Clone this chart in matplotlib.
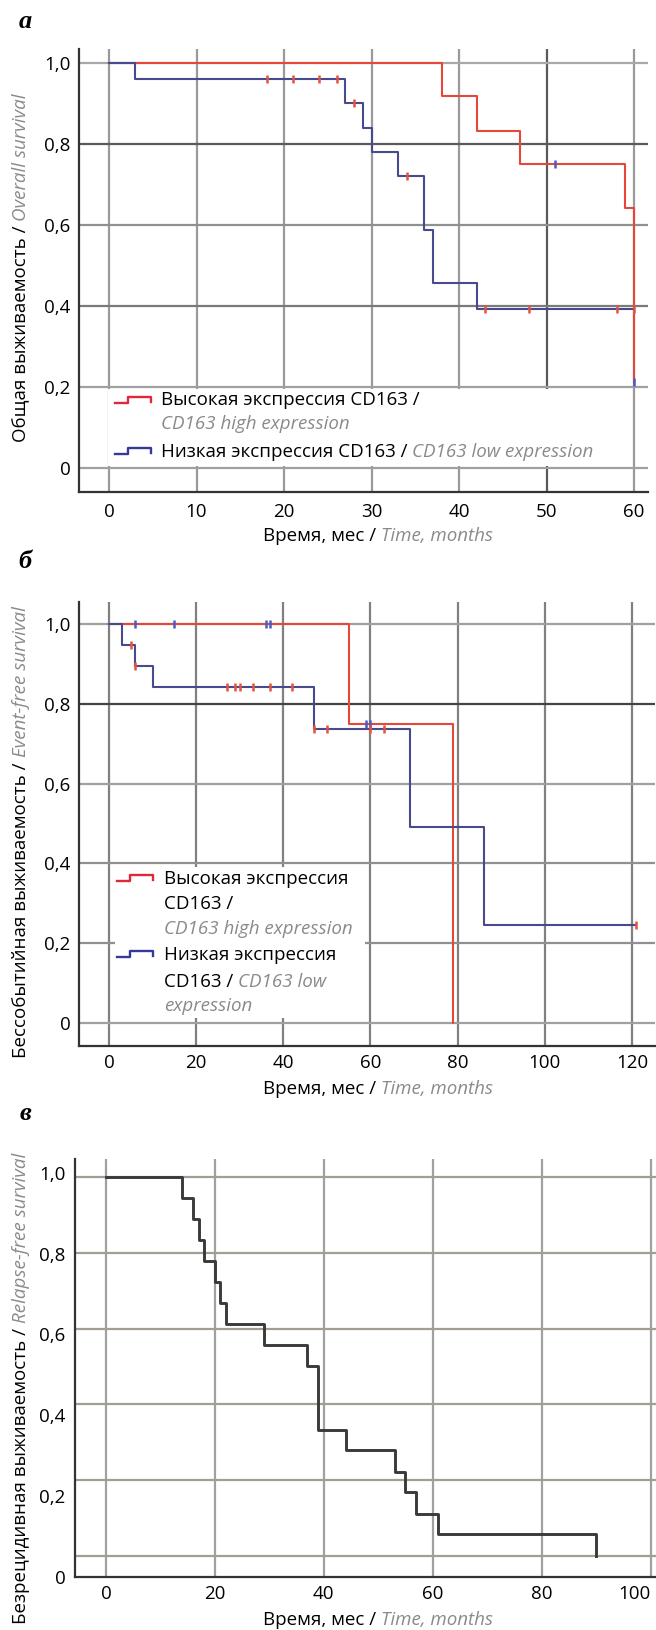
import numpy as np
import matplotlib
matplotlib.use('Agg')
import matplotlib.pyplot as plt
from matplotlib.lines import Line2D
from matplotlib.patches import Rectangle

plt.rcParams['font.family'] = ['Open Sans', 'DejaVu Sans']

W, H = 656, 1630
FS = 13.5
GRAY = '#8a8a8a'
RED = '#e5483a'
BLUE = '#474b8e'

# a: overall survival
os_high_t = [0, 38, 42, 47, 59, 60]
os_high_s = [1.0, 0.917, 0.833, 0.75, 0.643, 0.214]
os_high_cens = [51, 60]
os_low_t = [0, 3, 27, 29, 30, 33, 36, 37, 42, 60]
os_low_s = [1.0, 0.96, 0.90, 0.84, 0.78, 0.72, 0.589, 0.458, 0.393, 0.393]
os_low_cens = [18, 21, 24, 26, 28, 34, 43, 48, 58, 60]
os_xticks = [0, 10, 20, 30, 40, 50, 60]

# b: event-free survival
efs_high_t = [0, 55, 79]
efs_high_s = [1.0, 0.75, 0.0]
efs_high_cens = [6, 15, 36, 37, 59, 60]
efs_low_t = [0, 3, 6, 10, 47, 69, 86, 121]
efs_low_s = [1.0, 0.947, 0.895, 0.842, 0.737, 0.491, 0.246, 0.246]
efs_low_cens = [5, 6, 27, 29, 30, 33, 37, 42, 47, 50, 60, 63, 121]
efs_xticks = [0, 20, 40, 60, 80, 100, 120]

# c: relapse-free survival
rfs_t = [0, 14, 16, 17, 18, 20, 21, 22, 29, 37, 39, 44, 53, 55, 57, 61, 90]
rfs_s = [1.0, 0.944, 0.889, 0.833, 0.778, 0.722, 0.667, 0.611, 0.556, 0.5,
         0.333, 0.278, 0.222, 0.167, 0.111, 0.056, 0.0]
rfs_xticks = [0, 20, 40, 60, 80, 100]

yticks = [0, 0.2, 0.4, 0.6, 0.8, 1.0]
ylabels = ['0', '0,2', '0,4', '0,6', '0,8', '1,0']

fig = plt.figure(figsize=(W / 100, H / 100), dpi=100)
rend = fig.canvas.get_renderer()


def fx(px):
    return px / W


def fy(py):
    return 1 - py / H


def km_at(t, s, tc):
    idx = np.searchsorted(t, tc, side='right') - 1
    return np.asarray(s)[idx]


def make_axes(x0, x1, y0, y1):
    ax = fig.add_axes([fx(x0), fy(y1), (x1 - x0) / W, (y1 - y0) / H])
    for sp in ['top', 'right']:
        ax.spines[sp].set_visible(False)
    for sp in ['left', 'bottom']:
        ax.spines[sp].set_color('#333333')
        ax.spines[sp].set_linewidth(1.6)
    ax.tick_params(length=0, labelsize=FS, pad=6)
    return ax


def grid(ax, xs, xcols, ys, ycols):
    for x, c in zip(xs, xcols):
        ax.axvline(x, color=c, lw=1.6, zorder=1)
    for y, c in zip(ys, ycols):
        ax.axhline(y, color=c, lw=1.6, zorder=1)


def widths(parts):
    out = []
    for s, st in parts:
        t = fig.text(0, 0, s, fontsize=FS, style='italic' if st == 'i' else 'normal')
        out.append(t.get_window_extent(rend).width)
        t.remove()
    return out


def space_w():
    a = fig.text(0, 0, 'x x', fontsize=FS)
    b = fig.text(0, 0, 'xx', fontsize=FS)
    w = a.get_window_extent(rend).width - b.get_window_extent(rend).width
    a.remove()
    b.remove()
    return w


SP = space_w()


def rich(x, y, parts, rot=0, ha='left'):
    ws = widths(parts)
    total = sum(ws) + SP * (len(parts) - 1)
    pos = x - total / 2 if (ha == 'center' and rot == 0) else x
    if rot == 90:
        pos = y + total / 2
    for (s, st), w in zip(parts, ws):
        kw = dict(color='black') if st == 'n' else dict(color=GRAY, style='italic')
        if rot == 0:
            fig.text(fx(pos), fy(y), s, fontsize=FS, ha='left', va='baseline', **kw)
            pos += w + SP
        else:
            fig.text(fx(x), fy(pos), s, fontsize=FS, ha='left', va='baseline',
                     rotation=90, rotation_mode='anchor', **kw)
            pos -= w + SP


def step_handle(x0, yc, color):
    xs = np.array([x0, x0 + 13, x0 + 13, x0 + 36, x0 + 36])
    ys = np.array([yc + 3, yc + 3, yc - 3, yc - 3, yc + 2])
    fig.add_artist(Line2D(fx(xs), fy(ys), color=color, lw=1.7,
                          transform=fig.transFigure))


def panel_letter(y, s):
    fig.text(fx(25), fy(y), s, family=['Liberation Serif', 'DejaVu Serif'],
             weight='bold', style='italic', fontsize=19, ha='center', va='center')


def draw_curve(ax, t, s, color, cens, cens_color, lw=1.5):
    ax.step(t, s, where='post', color=color, lw=lw, zorder=3)
    if cens is not None:
        ax.plot(cens, km_at(t, s, cens), ls='none', marker='|', ms=6, mew=1.8,
                color=cens_color, zorder=4)


# ---------- panel a ----------
ax1 = make_axes(79, 648, 49, 492)
ax1.set_xlim(-3.43, 61.6)
ax1.set_ylim(-0.058, 1.034)
grid(ax1, os_xticks, ['#9a9a9a'] * 5 + ['#5a5a5a', '#9a9a9a'],
     yticks, ['#a0a0a0', '#a0a0a0', '#7a7a7a', '#909090', '#5a5a5a', '#a8a8a8'])
ax1.add_patch(Rectangle((0.051, 0.0587), 0.914, 0.174, transform=ax1.transAxes,
                        facecolor='white', edgecolor='none', zorder=2))
draw_curve(ax1, os_high_t, os_high_s, RED, os_high_cens, '#4a5cc0')
draw_curve(ax1, os_low_t, os_low_s, BLUE, os_low_cens, '#e5533f')
ax1.set_xticks(os_xticks)
ax1.set_xticklabels([str(v) for v in os_xticks])
ax1.set_yticks(yticks)
ax1.set_yticklabels(ylabels)
ax1.tick_params(axis='x', pad=8)

panel_letter(22, 'а')
rich(26, 268, [('Общая выживаемость /', 'n'), ('Overall survival', 'i')], rot=90)
rich(378, 541, [('Время, мес /', 'n'), ('Time, months', 'i')], ha='center')
step_handle(115, 400, '#e0283a')
step_handle(115, 451, '#353a9a')
rich(161, 405, [('Высокая экспрессия CD163 /', 'n')])
rich(161, 429, [('CD163 high expression', 'i')])
rich(161, 457, [('Низкая экспрессия CD163 /', 'n'), ('CD163 low expression', 'i')])

# ---------- panel b ----------
ax2 = make_axes(79, 655, 602, 1046)
ax2.set_xlim(-6.9, 125.3)
ax2.set_ylim(-0.058, 1.056)
grid(ax2, efs_xticks, ['#808080'] * 7,
     yticks, ['#a0a0a0', '#909090', '#909090', '#a0a0a0', '#444444', '#a0a0a0'])
ax2.add_patch(Rectangle((0.0625, 0.063), 0.434, 0.34, transform=ax2.transAxes,
                        facecolor='white', edgecolor='none', zorder=2))
draw_curve(ax2, efs_high_t, efs_high_s, RED, efs_high_cens, '#4a5cc0')
draw_curve(ax2, efs_low_t, efs_low_s, BLUE, efs_low_cens, '#e5533f')
ax2.set_xticks(efs_xticks)
ax2.set_xticklabels([str(v) for v in efs_xticks])
ax2.set_yticks(yticks)
ax2.set_yticklabels(ylabels)

panel_letter(562, 'б')
rich(26, 832, [('Бессобытийная выживаемость /', 'n'), ('Event-free survival', 'i')], rot=90)
rich(378, 1094, [('Время, мес /', 'n'), ('Time, months', 'i')], ha='center')
step_handle(117, 878, '#e0283a')
step_handle(117, 954, '#353a9a')
rich(164, 884, [('Высокая экспрессия', 'n')])
rich(164, 909, [('CD163 /', 'n')])
rich(164, 934, [('CD163 high expression', 'i')])
rich(164, 960, [('Низкая экспрессия', 'n')])
rich(164, 987, [('CD163 /', 'n'), ('CD163 low', 'i')])
rich(164, 1011, [('expression', 'i')])

# ---------- panel c ----------
ax3 = make_axes(75, 656, 1159, 1577)
ax3.set_xlim(-5.69, 101.0)
ax3.set_ylim(-0.0563, 1.048)
grid(ax3, rfs_xticks, ['#a0a0a0'] * 6, yticks, ['#a39d95'] * 6)
draw_curve(ax3, rfs_t, rfs_s, '#3a3a3a', None, None, lw=2.1)
ax3.set_xticks(rfs_xticks)
ax3.set_xticklabels([str(v) for v in rfs_xticks])
ax3.get_xticklabels()[-1].set_ha('right')
# tick labels in the source sit on a slightly stretched scale
lab_top, lab_stretch = 1.011, 1.066
ax3.set_yticks([lab_top - (1 - v) * lab_stretch for v in yticks])
ax3.set_yticklabels(ylabels)
ax3.tick_params(axis='y', pad=7)

panel_letter(1113, 'в')
rich(26, 1388, [('Безрецидивная выживаемость /', 'n'), ('Relapse-free survival', 'i')], rot=90)
rich(378, 1625, [('Время, мес /', 'n'), ('Time, months', 'i')], ha='center')

fig.savefig('out.png', dpi=100)
